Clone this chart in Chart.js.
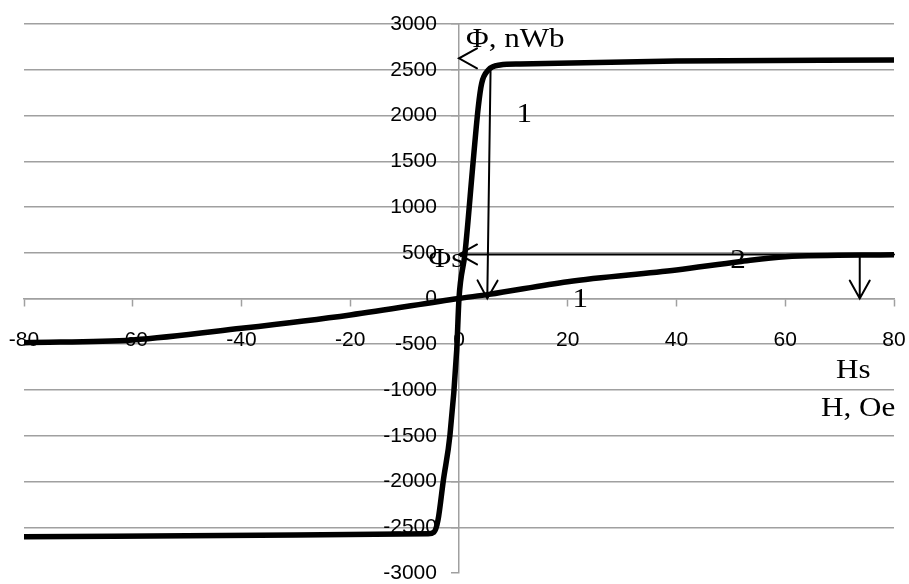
<!DOCTYPE html>
<html>
<head>
<meta charset="utf-8">
<script src="https://cdn.jsdelivr.net/npm/chart.js@4/dist/chart.umd.min.js"></script>
<style>
  html, body { margin: 0; padding: 0; background: #fff; }
  #wrap { width: 909px; height: 584px; }
</style>
</head>
<body>
<div id="wrap"><canvas id="chart"></canvas></div>
<script>
// Curve 1: steep loop, H (Oe) vs flux (nWb)
const curve1H   = [-80, -30, -5.7, -4.6, -3.86, -2.87, -1.66, -0.42, 0, 1.1, 2.63, 3.55, 4.17, 5.39, 7.54, 11.2, 40, 80];
const curve1Phi = [-2605, -2585, -2570, -2552, -2421, -1984, -1492, -563, 0, 494, 1514, 2096, 2352, 2497, 2552, 2563, 2596, 2607];

// Curve 2: slow S-curve
const curve2H   = [-80, -60, -40, -20, 0, 5.5, 20, 40, 51.5, 60, 80];
const curve2Phi = [-483, -453, -326, -180, 0, 45, 184, 311, 402, 457, 478];

// axis ticks
const xTicks = [-80, -60, -40, -20, 0, 20, 40, 60, 80];
const yTicks = [-3000, -2500, -2000, -1500, -1000, -500, 0, 500, 1000, 1500, 2000, 2500, 3000];

// annotation arrows in data units: [fromH, fromPhi, toH, toPhi, drawShaft]
const arrows = [
  [4, 2625, 0, 2625, false],
  [5.8, 2480, 5.2, 0, true],
  [80, 481, 0, 481, true],
  [73.7, 481, 73.7, 0, true],
];

// annotation labels: [text, H, Phi, align]
const labels = [
  ['\u03A6, nWb', 1.3, 2749, 'left'],
  ['1', 12, 1929, 'center'],
  ['\u03A6s', -2.4, 344, 'center'],
  ['2', 51.3, 333, 'center'],
  ['1', 22.3, -93, 'center'],
  ['Hs', 72.5, -869, 'center'],
  ['H, Oe', 73.4, -1284, 'center'],
];

const GRID = '#a0a0a0';
const TICK_FONT = { family: '"Liberation Sans", Arial, sans-serif', size: 21 };

const toPoints = (xs, ys) => xs.map((x, i) => ({ x, y: ys[i] }));

// center axes should not eat layout space
const noSpace = s => {
  if (s.isHorizontal()) s.height = 0; else s.width = 0;
  s.paddingLeft = s.paddingRight = s.paddingTop = s.paddingBottom = 0;
};

const annotate = {
  id: 'annotate',
  afterDatasetsDraw(chart) {
    const { ctx, scales: { x, y } } = chart;
    ctx.save();
    ctx.strokeStyle = '#000';
    ctx.lineWidth = 2;
    ctx.lineCap = 'round';
    arrows.forEach(([h0, p0, h1, p1, shaft]) => {
      const x0 = x.getPixelForValue(h0), y0 = y.getPixelForValue(p0);
      const x1 = x.getPixelForValue(h1), y1 = y.getPixelForValue(p1);
      const a = Math.atan2(y1 - y0, x1 - x0);
      const len = 18, half = 10;
      ctx.beginPath();
      if (shaft) {
        ctx.moveTo(x0, y0);
        ctx.lineTo(x1, y1);
      }
      const bx = x1 - len * Math.cos(a), by = y1 - len * Math.sin(a);
      ctx.moveTo(bx + half * Math.sin(a), by - half * Math.cos(a));
      ctx.lineTo(x1, y1);
      ctx.lineTo(bx - half * Math.sin(a), by + half * Math.cos(a));
      ctx.stroke();
    });
    ctx.fillStyle = '#000';
    ctx.font = '27px "Liberation Serif", "Times New Roman", serif';
    ctx.textBaseline = 'alphabetic';
    labels.forEach(([t, h, p, align]) => {
      ctx.save();
      ctx.translate(x.getPixelForValue(h), y.getPixelForValue(p));
      ctx.scale(1.15, 1);
      ctx.textAlign = align;
      ctx.fillText(t, 0, 0);
      ctx.restore();
    });
    ctx.restore();
  }
};

new Chart(document.getElementById('chart'), {
  type: 'scatter',
  data: {
    datasets: [
      {
        label: '1',
        data: toPoints(curve1H, curve1Phi),
        showLine: true,
        borderColor: '#000',
        borderWidth: 5.5,
        pointRadius: 0,
        cubicInterpolationMode: 'monotone',
      },
      {
        label: '2',
        data: toPoints(curve2H, curve2Phi),
        showLine: true,
        borderColor: '#000',
        borderWidth: 5.5,
        pointRadius: 0,
        cubicInterpolationMode: 'monotone',
      },
    ],
  },
  options: {
    responsive: true,
    maintainAspectRatio: false,
    animation: false,
    layout: { padding: { left: 24, right: 15, top: 24, bottom: 11 } },
    plugins: {
      legend: { display: false },
      tooltip: { enabled: false },
    },
    scales: {
      x: {
        type: 'linear',
        position: { y: 0 },
        min: -80,
        max: 80,
        afterFit: noSpace,
        afterBuildTicks: s => { s.ticks = xTicks.map(v => ({ value: v })); },
        grid: { drawOnChartArea: false, tickLength: 7, tickColor: GRID, tickWidth: 1.5 },
        border: { color: GRID, width: 1.5 },
        ticks: {
          color: '#000',
          padding: 22,
          maxRotation: 0,
          autoSkip: false,
          font: TICK_FONT,
          callback: v => String(v),
        },
      },
      y: {
        type: 'linear',
        position: { x: 0 },
        min: -3000,
        max: 3000,
        afterFit: noSpace,
        afterBuildTicks: s => { s.ticks = yTicks.map(v => ({ value: v })); },
        grid: {
          color: c => (c.tick && c.tick.value === -3000 ? 'rgba(0,0,0,0)' : GRID),
          lineWidth: 1.5,
          tickLength: 7,
          tickColor: GRID,
          tickWidth: 1.5,
        },
        border: { color: GRID, width: 1.5 },
        ticks: { display: false },
      },
      // label-only axis, set off to the left of the vertical axis
      yLabels: {
        type: 'linear',
        axis: 'y',
        position: { x: -4.05 },
        min: -3000,
        max: 3000,
        afterFit: noSpace,
        afterBuildTicks: s => { s.ticks = yTicks.map(v => ({ value: v })); },
        grid: { display: false },
        border: { display: false },
        ticks: {
          color: '#000',
          autoSkip: false,
          font: TICK_FONT,
          callback: v => String(v),
        },
      },
    },
  },
  plugins: [annotate],
});
</script>
</body>
</html>
